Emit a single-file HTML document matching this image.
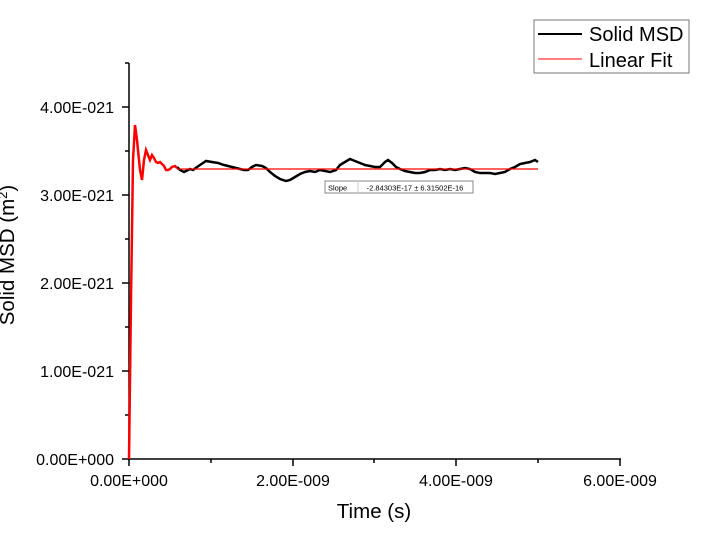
<!DOCTYPE html>
<html><head><meta charset="utf-8"><style>body{margin:0;background:#fff}</style></head><body>
<svg width="720" height="551" xmlns="http://www.w3.org/2000/svg" font-family="Liberation Sans, sans-serif">
<rect width="720" height="551" fill="#fff"/>
<g stroke="#000" stroke-width="1.5" fill="none">
<line x1="129" y1="63" x2="129" y2="460"/>
<line x1="128" y1="459" x2="621" y2="459"/>
<line x1="122" y1="459" x2="129" y2="459"/><line x1="122" y1="371" x2="129" y2="371"/><line x1="122" y1="283" x2="129" y2="283"/><line x1="122" y1="195" x2="129" y2="195"/><line x1="122" y1="107" x2="129" y2="107"/>
<line x1="125" y1="415" x2="129" y2="415"/><line x1="125" y1="327" x2="129" y2="327"/><line x1="125" y1="239" x2="129" y2="239"/><line x1="125" y1="151" x2="129" y2="151"/><line x1="125" y1="63" x2="129" y2="63"/>
<line x1="129" y1="459" x2="129" y2="466"/><line x1="293" y1="459" x2="293" y2="466"/><line x1="456" y1="459" x2="456" y2="466"/><line x1="620" y1="459" x2="620" y2="466"/>
<line x1="211" y1="459" x2="211" y2="463"/><line x1="374" y1="459" x2="374" y2="463"/><line x1="538" y1="459" x2="538" y2="463"/>
</g>
<g font-size="16" text-anchor="end" fill="#000">
<text x="114" y="465">0.00E+000</text><text x="114" y="377">1.00E-021</text><text x="114" y="289">2.00E-021</text><text x="114" y="201">3.00E-021</text><text x="114" y="113">4.00E-021</text>
</g>
<g font-size="16" text-anchor="middle" fill="#000">
<text x="129" y="486">0.00E+000</text><text x="293" y="486">2.00E-009</text><text x="456" y="486">4.00E-009</text><text x="620" y="486">6.00E-009</text>
</g>
<text x="374" y="518" font-size="20.5" text-anchor="middle">Time (s)</text>
<text transform="translate(14,255) rotate(-90)" font-size="20.5" text-anchor="middle">Solid MSD (m<tspan font-size="13" dy="-7">2</tspan><tspan dy="7">)</tspan></text>
<polyline fill="none" stroke="#000" stroke-width="2.5" points="177,167 180,170 184,172 188,170 190,169 193,170 197,167 200,165 206,161 212,162 218,163 224,165 228,166 232,167 236,168 240,169 244,170 248,170 252,167 256,165 262,166 266,168 270,172 275,176 280,179 286,181 290,180 295,177 300,174 305,172 310,171 315,172 320,170 330,172 336,170 340,165 345,162 350,159 355,161 360,163 365,165 370,166 375,167 380,167 385,162 388,160 392,163 396,167 400,169 405,171 410,172 415,173 420,173 425,172 430,170 435,170 440,169 445,170 450,169 455,170 460,169 465,168 470,169 475,172 480,173 485,173 490,173 495,174 500,173 505,172 510,169 515,167 520,164 525,163 530,162 535,160 538,162"/>
<line x1="177" y1="169" x2="538" y2="169" stroke="#f00" stroke-width="1.3"/>
<polyline fill="none" stroke="#f00" stroke-width="2.5" points="129,459 131,300 133,160 135,125 137,140 140,170 142,180 144,160 146,150 148,155 150,160 152,155 154,158 156,162 158,163 160,162 162,164 164,166 166,170 168,170 170,169 172,167 175,166 177,168"/>
<rect x="325" y="181" width="148" height="12" fill="#fff" stroke="#888" stroke-width="1"/>
<line x1="358" y1="181" x2="358" y2="193" stroke="#ccc"/>
<text x="328" y="190.5" font-size="7.5">Slope</text>
<text x="415" y="190.5" font-size="7.5" text-anchor="middle">-2.84303E-17 ± 6.31502E-16</text>
<rect x="534" y="20" width="155" height="53" fill="#fff" stroke="#777" stroke-width="1"/>
<line x1="538" y1="34" x2="582" y2="34" stroke="#000" stroke-width="2"/>
<line x1="538" y1="59" x2="582" y2="59" stroke="#f00" stroke-width="1"/>
<text x="589" y="41" font-size="20">Solid MSD</text>
<text x="589" y="67" font-size="20">Linear Fit</text>
</svg>
</body></html>
